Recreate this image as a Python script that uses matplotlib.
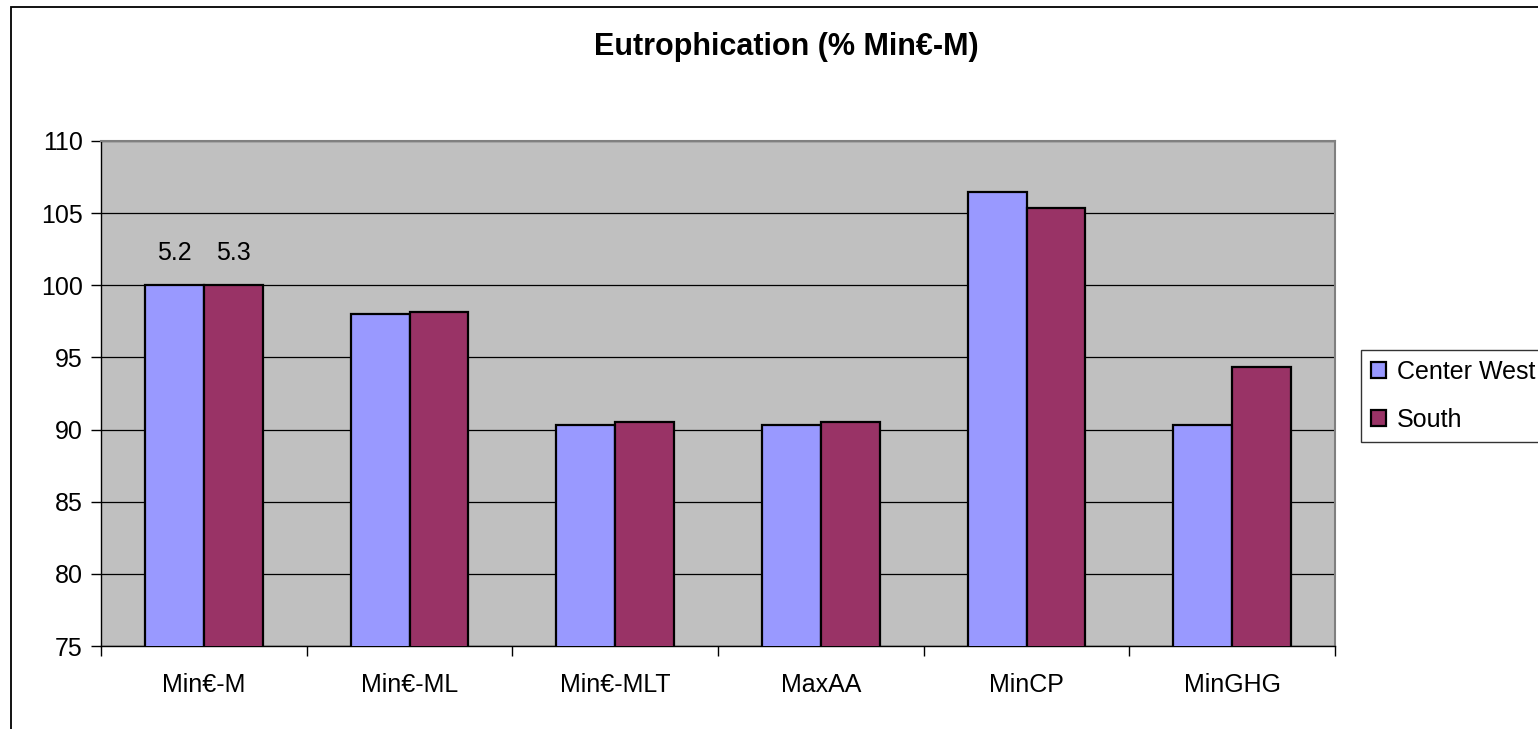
import numpy as np
import matplotlib.pyplot as plt
from matplotlib.patches import Rectangle

plt.rcParams['font.family'] = ['Liberation Sans', 'DejaVu Sans']

# Eutrophication per scenario, as % of Min€-M
escenarios = ['Min€-M', 'Min€-ML', 'Min€-MLT', 'MaxAA', 'MinCP', 'MinGHG']
center_west = [100.0, 98.0, 90.3, 90.3, 106.5, 90.3]
south = [100.0, 98.15, 90.5, 90.5, 105.35, 94.35]
# absolute values of the Min€-M reference
base_abs = ['5.2', '5.3']

fig = plt.figure(figsize=(15.38, 7.29), dpi=100)
ax = fig.add_axes([101 / 1538, 1 - 646 / 729, 1234 / 1538, 505 / 729])

x = np.arange(len(escenarios))
w = 1 / 3.5
b1 = ax.bar(x - w / 2, center_west, w, color='#9999FF',
            edgecolor='black', linewidth=1.6, label='Center West', zorder=3)
b2 = ax.bar(x + w / 2, south, w, color='#993366',
            edgecolor='black', linewidth=1.6, label='South', zorder=3)

# labels over the first pair of bars
for barra, txt in zip([b1[0], b2[0]], base_abs):
    ax.annotate(txt, (barra.get_x() + barra.get_width() / 2, barra.get_height()),
                xytext=(0, 23), textcoords='offset points',
                ha='center', va='center', fontsize=18)

ax.set_facecolor('#C0C0C0')
ax.set_ylim(75, 110)
ax.set_xlim(-0.5, len(escenarios) - 0.5)
ax.set_yticks(np.arange(75, 111, 5))
ax.yaxis.grid(True, color='black', linewidth=0.9, zorder=0)
ax.set_axisbelow(True)

ax.set_xticks(x)
ax.set_xticklabels(escenarios)
ax.set_xticks(np.arange(-0.5, len(escenarios), 1), minor=True)
ax.tick_params(axis='x', which='major', length=0, pad=19.5, labelsize=18)
ax.tick_params(axis='x', which='minor', length=7, width=1, color='black')
ax.tick_params(axis='y', length=7, width=1, pad=6, labelsize=18)

for lado in ['top', 'right']:
    ax.spines[lado].set_color('#808080')
    ax.spines[lado].set_linewidth(1.5)
for lado in ['left', 'bottom']:
    ax.spines[lado].set_color('black')
    ax.spines[lado].set_linewidth(1)

fig.text(786 / 1538, 1 - 47 / 729, 'Eutrophication (% Min€-M)',
         ha='center', va='center', fontsize=22, fontweight='bold')

leg = fig.legend(loc='upper left', bbox_to_anchor=(1361 / 1538, 1 - 350 / 729),
                 borderaxespad=0, fontsize=18, frameon=True, fancybox=False,
                 handlelength=0.6, handleheight=0.6, handletextpad=0.45,
                 borderpad=0.4, labelspacing=0.95)
leg.get_frame().set_edgecolor('black')
leg.get_frame().set_linewidth(1)

# outer chart border
fig.patches.append(Rectangle((10.5 / 1538, -0.1), 1.2, 1.1 - 7.5 / 729,
                             transform=fig.transFigure, fill=False,
                             edgecolor='black', linewidth=1.3))

fig.savefig('out.png', dpi=100)
